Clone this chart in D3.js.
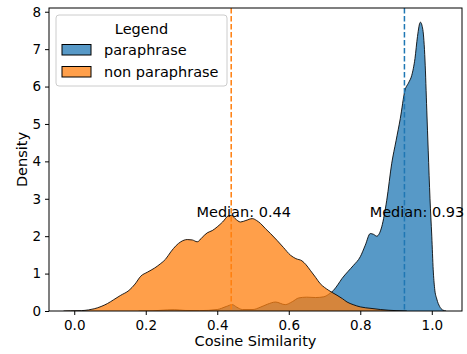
<!DOCTYPE html>
<html lang="en">
<head>
<meta charset="UTF-8">
<title>Cosine Similarity KDE</title>
<script src="https://d3js.org/d3.v7.min.js"></script>
<style>
  body { margin: 0; background: #fff; }
  text { font-family: "DejaVu Sans", sans-serif; fill: #000; }
</style>
</head>
<body>
<script>
// density curve for "paraphrase" pairs (x = cosine similarity, y = density)
var paraX = [0.18, 0.22, 0.26, 0.28, 0.31, 0.35, 0.40, 0.425, 0.442, 0.455, 0.47, 0.50, 0.52, 0.54, 0.563, 0.59, 0.61, 0.628, 0.65, 0.675, 0.698, 0.712, 0.725, 0.737, 0.749, 0.765, 0.781, 0.80, 0.814, 0.828, 0.837, 0.846, 0.86, 0.874, 0.888, 0.90, 0.912, 0.925, 0.935, 0.944, 0.953, 0.96, 0.968, 0.975, 0.981, 0.986, 0.99, 0.995, 1.0, 1.004, 1.008, 1.014, 1.022, 1.03, 1.04];
var paraY = [0, 0.005, 0.03, 0.035, 0.015, 0.01, 0.04, 0.12, 0.17, 0.10, 0.04, 0.04, 0.10, 0.18, 0.24, 0.17, 0.25, 0.35, 0.37, 0.36, 0.38, 0.45, 0.55, 0.70, 0.87, 1.05, 1.22, 1.45, 1.76, 2.07, 2.05, 2.0, 2.25, 2.96, 3.95, 4.55, 5.15, 5.9, 6.1, 6.3, 6.75, 7.34, 7.72, 7.52, 6.71, 5.37, 4.3, 3.0, 2.0, 1.1, 0.6, 0.32, 0.12, 0.03, 0];

// density curve for "non paraphrase" pairs
var nonX = [-0.03, -0.01, 0.02, 0.04, 0.056, 0.075, 0.093, 0.11, 0.13, 0.153, 0.17, 0.186, 0.205, 0.225, 0.242, 0.255, 0.27, 0.285, 0.298, 0.316, 0.33, 0.344, 0.358, 0.372, 0.386, 0.40, 0.415, 0.432, 0.44, 0.45, 0.465, 0.48, 0.498, 0.51, 0.521, 0.535, 0.549, 0.567, 0.585, 0.605, 0.62, 0.637, 0.648, 0.66, 0.675, 0.688, 0.70, 0.712, 0.735, 0.75, 0.763, 0.78, 0.80, 0.83, 0.856, 0.88, 0.90, 0.93];
var nonY = [0, 0.005, 0.01, 0.03, 0.06, 0.12, 0.20, 0.30, 0.42, 0.55, 0.72, 0.93, 1.04, 1.15, 1.27, 1.38, 1.58, 1.75, 1.85, 1.91, 1.90, 1.85, 1.97, 2.09, 2.15, 2.25, 2.38, 2.55, 2.56, 2.47, 2.38, 2.42, 2.47, 2.42, 2.34, 2.20, 2.07, 1.89, 1.70, 1.49, 1.40, 1.34, 1.24, 1.09, 0.90, 0.73, 0.63, 0.55, 0.42, 0.33, 0.24, 0.17, 0.11, 0.07, 0.04, 0.02, 0.01, 0];

var seriesNames = ["paraphrase", "non paraphrase"];
var seriesColors = ["#1f77b4", "#ff7f0e"];
var medians = [0.9235, 0.439];
var medianLabels = ["Median: 0.93", "Median: 0.44"];

var xTicks = [0.0, 0.2, 0.4, 0.6, 0.8, 1.0];
var yTicks = [0, 1, 2, 3, 4, 5, 6, 7, 8];

var width = 467, height = 354;
var margin = { top: 8, right: 5, bottom: 43, left: 49 };

var svg = d3.select("body").append("svg")
    .attr("width", width)
    .attr("height", height);

var x = d3.scaleLinear()
    .domain([-0.0706, 1.0845])
    .range([margin.left, width - margin.right]);

var y = d3.scaleLinear()
    .domain([0, 8.1])
    .range([height - margin.bottom, margin.top]);

var area = d3.area()
    .curve(d3.curveMonotoneX)
    .x(d => x(d[0]))
    .y0(y(0))
    .y1(d => y(d[1]));

var line = d3.line()
    .curve(d3.curveMonotoneX)
    .x(d => x(d[0]))
    .y(d => y(d[1]));

var series = [
    d3.zip(paraX, paraY),
    d3.zip(nonX, nonY)
];

// plot area clip
svg.append("clipPath").attr("id", "clip")
    .append("rect")
    .attr("x", margin.left).attr("y", margin.top)
    .attr("width", width - margin.left - margin.right)
    .attr("height", height - margin.top - margin.bottom);

var plot = svg.append("g").attr("clip-path", "url(#clip)");

// paraphrase first, non paraphrase drawn over it
series.forEach(function (pts, i) {
    plot.append("path")
        .datum(pts)
        .attr("d", area)
        .attr("fill", seriesColors[i])
        .attr("fill-opacity", 0.75);
    plot.append("path")
        .datum(pts)
        .attr("d", line)
        .attr("fill", "none")
        .attr("stroke", "#000")
        .attr("stroke-opacity", 0.85)
        .attr("stroke-width", 1);
});

// median lines
medians.forEach(function (m, i) {
    plot.append("line")
        .attr("x1", x(m)).attr("x2", x(m))
        .attr("y1", margin.top).attr("y2", height - margin.bottom)
        .attr("stroke", seriesColors[i])
        .attr("stroke-width", 1.5)
        .attr("stroke-dasharray", "5.5,2.5");
});

// median labels
medians.forEach(function (m, i) {
    svg.append("text")
        .attr("x", x(m + 0.035))
        .attr("y", y(2.5))
        .attr("text-anchor", "middle")
        .style("font-size", "14.5px")
        .text(medianLabels[i]);
});

// axes
var xAxis = svg.append("g")
    .attr("transform", `translate(0,${height - margin.bottom})`)
    .call(d3.axisBottom(x).tickValues(xTicks).tickFormat(d3.format(".1f")).tickSize(4).tickPadding(5));

var yAxis = svg.append("g")
    .attr("transform", `translate(${margin.left},0)`)
    .call(d3.axisLeft(y).tickValues(yTicks).tickFormat(d3.format("d")).tickSize(4).tickPadding(4));

[xAxis, yAxis].forEach(function (g) {
    g.select(".domain").remove();
    g.selectAll("line").attr("stroke", "#000").attr("stroke-width", 1);
    g.selectAll("text")
        .style("font-family", "DejaVu Sans, sans-serif")
        .style("font-size", "13.5px")
        .attr("fill", "#000");
});

// frame
svg.append("rect")
    .attr("x", margin.left).attr("y", margin.top)
    .attr("width", width - margin.left - margin.right)
    .attr("height", height - margin.top - margin.bottom)
    .attr("fill", "none")
    .attr("stroke", "#000")
    .attr("stroke-width", 1);

// axis labels
svg.append("text")
    .attr("x", (margin.left + width - margin.right) / 2)
    .attr("y", 346)
    .attr("text-anchor", "middle")
    .style("font-size", "14.5px")
    .text("Cosine Similarity");

svg.append("text")
    .attr("transform", `translate(27,${(margin.top + height - margin.bottom) / 2}) rotate(-90)`)
    .attr("text-anchor", "middle")
    .style("font-size", "14.5px")
    .text("Density");

// legend
var legend = svg.append("g").attr("transform", "translate(56,15)");
legend.append("rect")
    .attr("width", 171).attr("height", 71)
    .attr("rx", 3)
    .attr("fill", "#fff").attr("fill-opacity", 0.8)
    .attr("stroke", "#ccc");
legend.append("text")
    .attr("x", 85.5).attr("y", 18.5)
    .attr("text-anchor", "middle")
    .style("font-size", "14.5px")
    .text("Legend");
seriesNames.forEach(function (name, i) {
    var gy = 29.5 + i * 22;
    legend.append("rect")
        .attr("x", 6).attr("y", gy)
        .attr("width", 29).attr("height", 10.5)
        .attr("fill", seriesColors[i]).attr("fill-opacity", 0.75)
        .attr("stroke", "#000").attr("stroke-width", 1);
    legend.append("text")
        .attr("x", 48).attr("y", gy + 10)
        .style("font-size", "14.5px")
        .text(name);
});
</script>
</body>
</html>
